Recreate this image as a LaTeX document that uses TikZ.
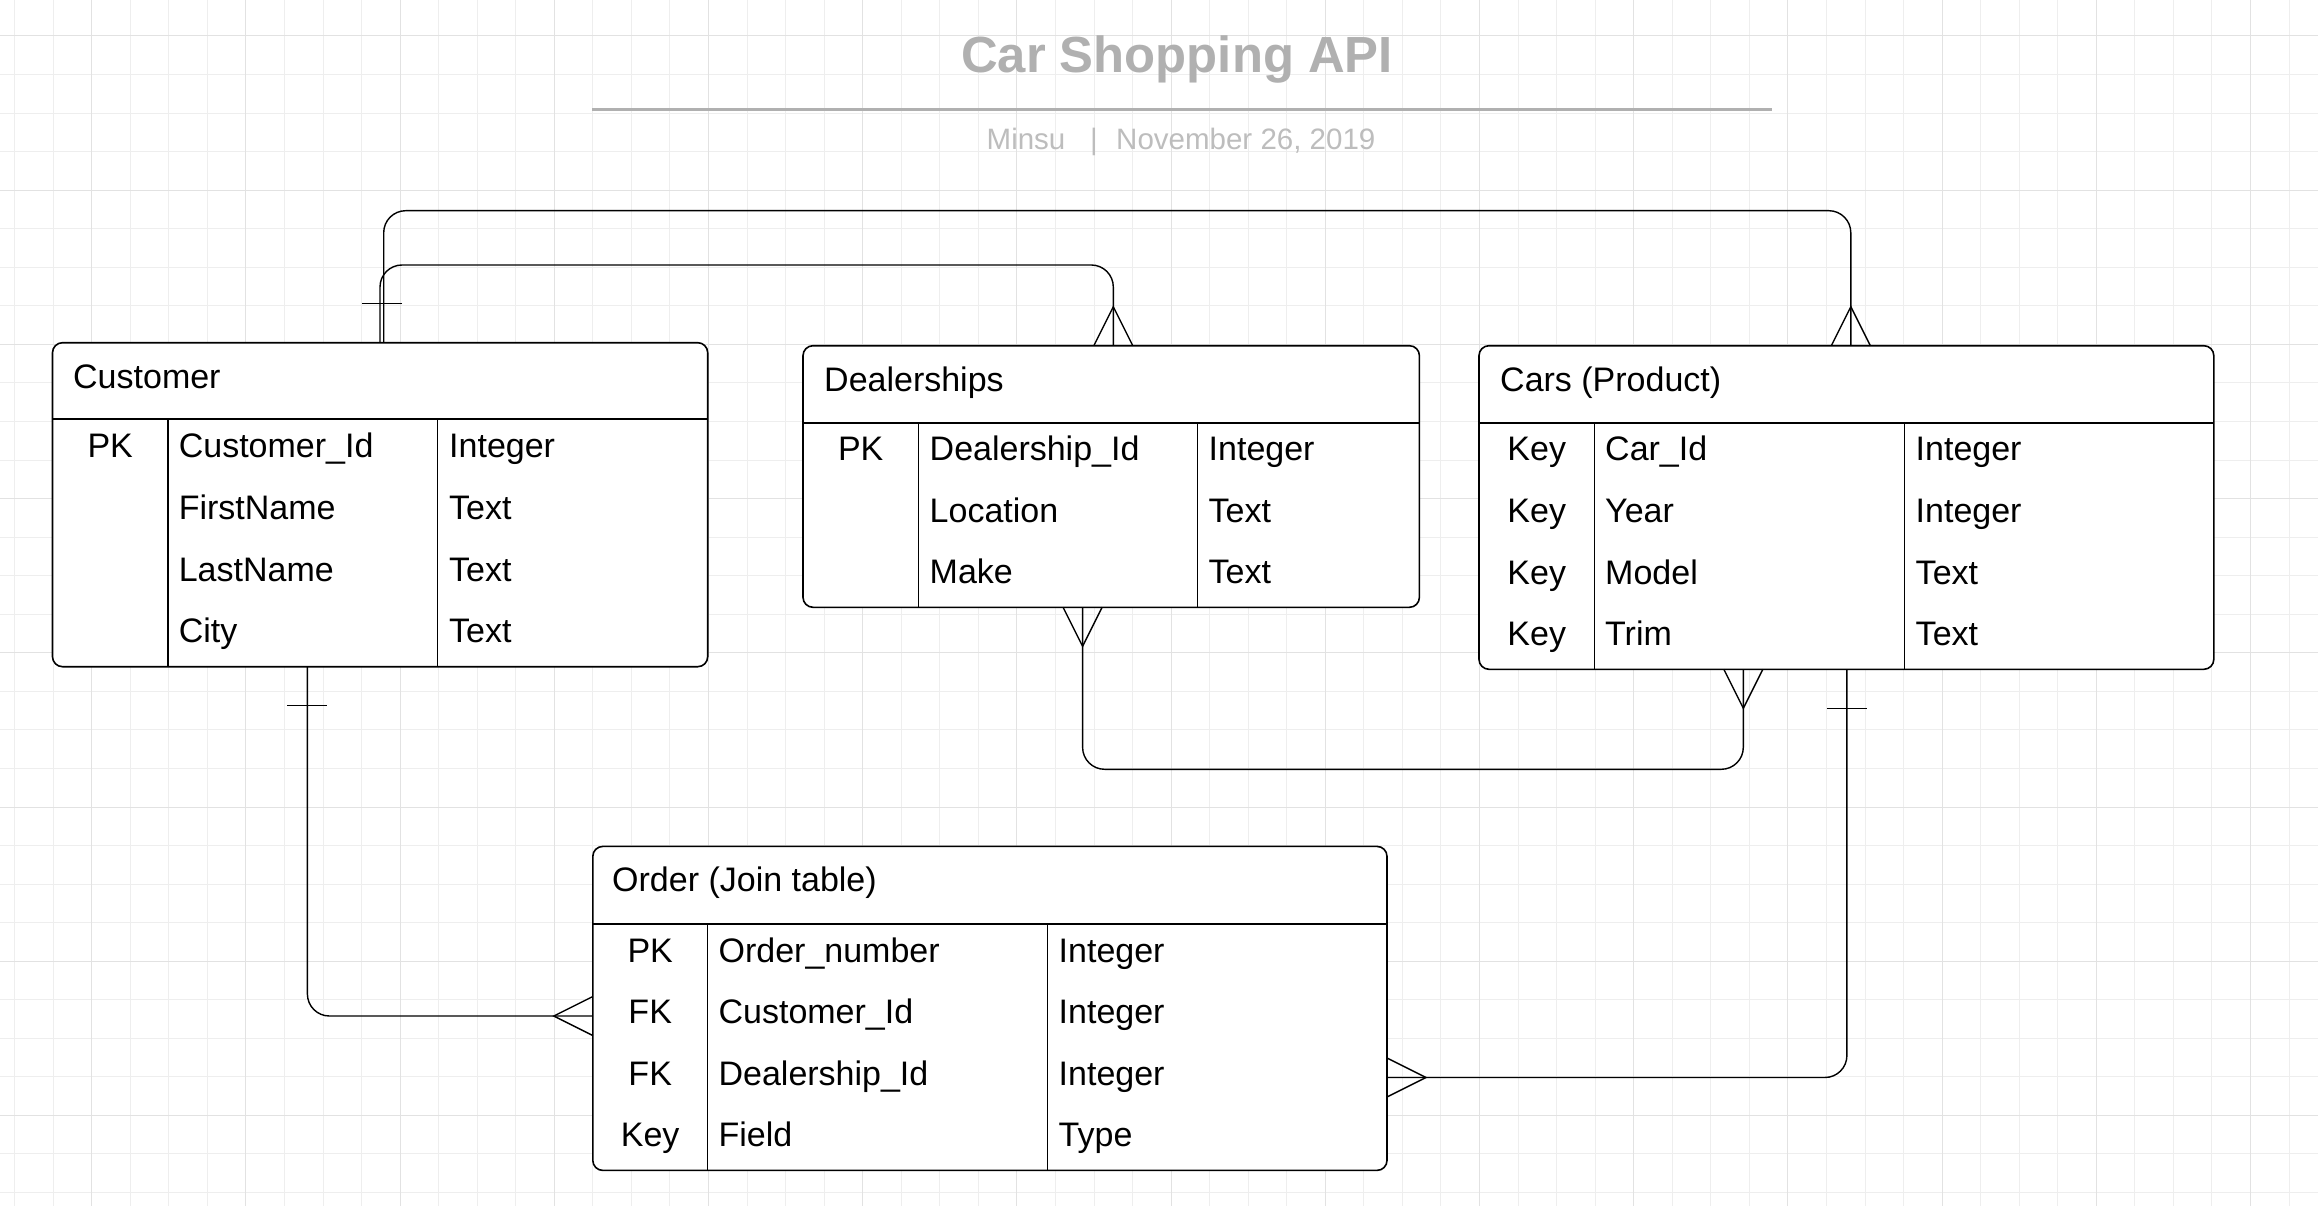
\documentclass[tikz,border=0pt]{standalone}
\usepackage{fontspec}
\setmainfont{Liberation Sans}

\definecolor{titlegray}{HTML}{B0B0B0}
\definecolor{subgray}{HTML}{BDBDBD}
\definecolor{minorgrid}{HTML}{EEEEEE}
\definecolor{majorgrid}{HTML}{E2E2E2}

\tikzset{
  tbl/.style={draw, line width=1.6pt, rounded corners=10pt, fill=white,
    inner sep=0pt, outer sep=0pt, anchor=north west},
  tblsep/.style={line width=2pt},
  tblcol/.style={line width=1.3pt},
  cell/.style={anchor=base west, inner sep=0pt, font=\fontsize{34}{40}\selectfont},
  keycell/.style={cell, anchor=base},
  rel/.style={line width=1.4pt, rounded corners=22pt},
  crowfoot/.pic={\draw[line width=1.4pt] (0,19.5) -- (39,0) -- (0,-19.5);},
  onemark/.pic={\draw[line width=1.4pt] (39,20) -- (39,-20);}
}

\begin{document}
\begin{tikzpicture}[x=1pt, y=-1pt]
  \useasboundingbox (0,0) rectangle (2318,1206);
  \fill[white] (0,0) rectangle (2318,1206);

  % background grid
  \begin{scope}[shift={(91.7,36)}]
    \draw[minorgrid, line width=1pt, step=38.55pt] (-91.7,1170) grid (2226.3,-36);
    \draw[majorgrid, line width=1pt, step=154.2pt] (-91.7,1170) grid (2226.3,-36);
  \end{scope}

  % title
  \node[anchor=base, inner sep=0pt, text=titlegray, font=\fontsize{50.8}{60}\selectfont\bfseries]
    (title) at (1177,72.7) {Car Shopping API};
  \draw[titlegray, line width=3.5pt] (592,109.3) -- (1771.7,109.3);
  \node[anchor=base west, inner sep=0pt, text=subgray, font=\fontsize{29.5}{35}\selectfont]
    (sub) at (986.5,150) {Minsu\hspace{24.8pt}|\hspace{18.4pt}November 26, 2019};

  % tables
  \node[tbl, minimum width=655.2pt, minimum height=324pt] (cust) at (52.5,342.7) {};
  \node[tbl, minimum width=616.4pt, minimum height=261.6pt] (deal) at (803,345.7) {};
  \node[tbl, minimum width=734.8pt, minimum height=323.6pt] (cars) at (1479,345.7) {};
  \node[tbl, minimum width=794.2pt, minimum height=324pt] (order) at (592.8,846.4) {};

  % connector ends
  \coordinate (custA) at ([xshift=331.2pt]cust.north west);
  \coordinate (custB) at ([xshift=327.5pt]cust.north west);
  \coordinate (custC) at ([xshift=254.9pt]cust.south west);
  \coordinate (dealA) at ([xshift=310.3pt]deal.north west);
  \coordinate (dealB) at ([xshift=279.6pt]deal.south west);
  \coordinate (carsA) at ([xshift=371.8pt]cars.north west);
  \coordinate (carsB) at ([xshift=264.3pt]cars.south west);
  \coordinate (carsC) at ([xshift=367.9pt]cars.south west);
  \coordinate (orderA) at ([yshift=-169.6pt]order.north west);
  \coordinate (orderB) at ([yshift=-231.1pt]order.north east);

  \draw[rel] (custA) -- ++(0,-132) -| (carsA);
  \draw[rel] (custB) -- ++(0,-77.7) -| (dealA);
  \draw[rel] (custC) |- (orderA);
  \draw[rel] (dealB) -- ++(0,162) -| (carsB);
  \draw[rel] (carsC) |- (orderB);

  \pic[rotate=90] at ([xshift=329.5pt]cust.north west) {onemark};
  \pic[rotate=90] at (carsA) {crowfoot};
  \pic[rotate=90] at (dealA) {crowfoot};
  \pic[rotate=-90] at (custC) {onemark};
  \pic[rotate=180] at (orderA) {crowfoot};
  \pic[rotate=-90] at (dealB) {crowfoot};
  \pic[rotate=-90] at (carsB) {crowfoot};
  \pic[rotate=-90] at (carsC) {onemark};
  \pic at (orderB) {crowfoot};

  % Customer
  \draw[tblsep] (52.5,419.3) -- (707.7,419.3);
  \draw[tblcol] (167.9,419.3) -- (167.9,666.7);
  \draw[tblcol] (437.8,419.3) -- (437.8,666.7);
  \node[cell] (cust-h) at (73,388.3) {Customer};
  \node[keycell] (cust-k1) at (110.2,457.3) {PK};
  \node[cell] (cust-f1) at (178.6,457.3) {Customer\_Id};
  \node[cell] (cust-t1) at (449,457.3) {Integer};
  \node[cell] (cust-f2) at (178.6,519.2) {FirstName};
  \node[cell] (cust-t2) at (449,519.2) {Text};
  \node[cell] (cust-f3) at (178.6,581) {LastName};
  \node[cell] (cust-t3) at (449,581) {Text};
  \node[cell] (cust-f4) at (178.6,642.9) {City};
  \node[cell] (cust-t4) at (449,642.9) {Text};

  % Dealerships
  \draw[tblsep] (803,422.7) -- (1419.4,422.7);
  \draw[tblcol] (918.4,422.7) -- (918.4,607.3);
  \draw[tblcol] (1197.4,422.7) -- (1197.4,607.3);
  \node[cell] (deal-h) at (824,391.2) {Dealerships};
  \node[keycell] (deal-k1) at (860.7,460.7) {PK};
  \node[cell] (deal-f1) at (929.5,460.7) {Dealership\_Id};
  \node[cell] (deal-t1) at (1208.5,460.7) {Integer};
  \node[cell] (deal-f2) at (929.5,522.2) {Location};
  \node[cell] (deal-t2) at (1208.5,522.2) {Text};
  \node[cell] (deal-f3) at (929.5,583.7) {Make};
  \node[cell] (deal-t3) at (1208.5,583.7) {Text};

  % Cars (Product)
  \draw[tblsep] (1479,422.7) -- (2213.8,422.7);
  \draw[tblcol] (1594.4,422.7) -- (1594.4,669.3);
  \draw[tblcol] (1904.7,422.7) -- (1904.7,669.3);
  \node[cell] (cars-h) at (1500,391.2) {Cars (Product)};
  \node[keycell] (cars-k1) at (1536.7,460.7) {Key};
  \node[cell] (cars-f1) at (1605,460.7) {Car\_Id};
  \node[cell] (cars-t1) at (1915.5,460.7) {Integer};
  \node[keycell] (cars-k2) at (1536.7,522.3) {Key};
  \node[cell] (cars-f2) at (1605,522.3) {Year};
  \node[cell] (cars-t2) at (1915.5,522.3) {Integer};
  \node[keycell] (cars-k3) at (1536.7,584) {Key};
  \node[cell] (cars-f3) at (1605,584) {Model};
  \node[cell] (cars-t3) at (1915.5,584) {Text};
  \node[keycell] (cars-k4) at (1536.7,645.6) {Key};
  \node[cell] (cars-f4) at (1605,645.6) {Trim};
  \node[cell] (cars-t4) at (1915.5,645.6) {Text};

  % Order (Join table)
  \draw[tblsep] (592.8,924) -- (1387,924);
  \draw[tblcol] (707.6,924) -- (707.6,1170.4);
  \draw[tblcol] (1047.4,924) -- (1047.4,1170.4);
  \node[cell] (order-h) at (612,891.9) {Order (Join table)};
  \node[keycell] (order-k1) at (650.2,962) {PK};
  \node[cell] (order-f1) at (718.4,962) {Order\_number};
  \node[cell] (order-t1) at (1058.5,962) {Integer};
  \node[keycell] (order-k2) at (650.2,1023.6) {FK};
  \node[cell] (order-f2) at (718.4,1023.6) {Customer\_Id};
  \node[cell] (order-t2) at (1058.5,1023.6) {Integer};
  \node[keycell] (order-k3) at (650.2,1085.2) {FK};
  \node[cell] (order-f3) at (718.4,1085.2) {Dealership\_Id};
  \node[cell] (order-t3) at (1058.5,1085.2) {Integer};
  \node[keycell] (order-k4) at (650.2,1146.8) {Key};
  \node[cell] (order-f4) at (718.4,1146.8) {Field};
  \node[cell] (order-t4) at (1058.5,1146.8) {Type};
\end{tikzpicture}
\end{document}
